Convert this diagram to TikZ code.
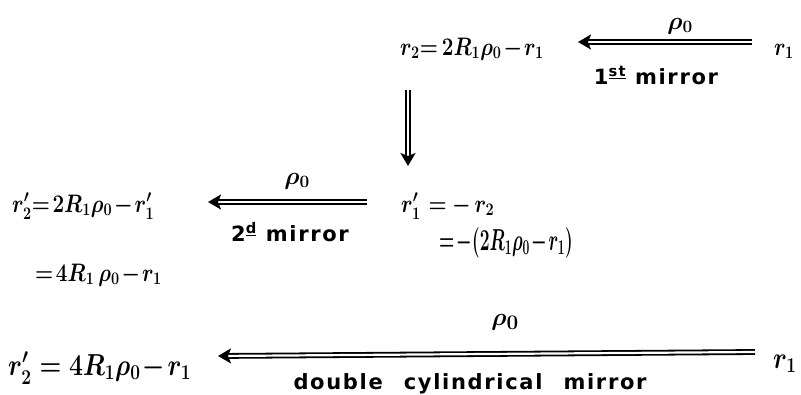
\documentclass[tikz,border=0pt]{standalone}
\usepackage{amsmath}
\usepackage{graphicx}
\usepackage{fontspec}
\setsansfont{DejaVu Sans}
\usetikzlibrary{arrows.meta}
\newfontfamily\hand[LetterSpace=8]{DejaVu Sans}
\newcommand\tightmu{\boldmath\thickmuskip=2mu\relax\medmuskip=1.5mu\relax}
\newcommand\tall[2][1]{\scalebox{#1}[1.22]{#2}}
\tikzset{
  eq/.style={anchor=base west, inner sep=0pt,
    font=\fontsize{22}{26}\selectfont, execute at begin node=\tightmu},
  bigeq/.style={eq, font=\fontsize{24}{28}\selectfont},
  lbl/.style={anchor=base, inner sep=0pt, font=\fontsize{21}{24}\selectfont\hand\bfseries},
  rho/.style={anchor=center, inner sep=0pt, font=\fontsize{26}{28}\selectfont,
    execute at begin node=\boldmath},
  dbl/.style={draw=black, line width=1.8pt, double distance=2.2pt,
    -{Stealth[length=13pt,width=15pt,inset=3pt]}},
}
\begin{document}
\begin{tikzpicture}[x=1pt,y=-1pt]
\useasboundingbox (0,0) rectangle (801,394);
% top row
\node[eq] (e1) at (400,55) {\tall{$r_2{=}\,2R_1\rho_0-r_1$}};
\node[eq] (r1a) at (774,55) {\tall{$r_1$}};
\coordinate (a1s) at (752,42);
\coordinate (a1e) at (578,42);
\draw[dbl] (a1s) -- (a1e);
\node[rho] (rho1) at (680,26) {$\rho_0$};
\node[lbl] (m1) at (656,84) {1\textsuperscript{\underline{st}} mirror};
% vertical arrow
\coordinate (vs) at (408,90);
\coordinate (ve) at (408,166);
\draw[dbl] (vs) -- (ve);
% middle row
\node[eq] (e2) at (401,212) {\tall{$r_1'\;\;=\;-\,r_2$}};
\node[eq, font=\fontsize{24}{28}\selectfont] (e3) at (439,250) {\tall[0.7]{$=-(2R_1\rho_0-r_1)$}};
\coordinate (a2s) at (367,202);
\coordinate (a2e) at (208,202);
\draw[dbl] (a2s) -- (a2e);
\node[rho] (rho2) at (297,181) {$\rho_0$};
\node[lbl] (m2) at (290,241) {2\textsuperscript{\underline{d}} mirror};
\node[eq] (e4) at (12,212) {\tall{$r_2'{=}\;2R_1\rho_0-r_1'$}};
\node[eq] (e5) at (35,281) {\tall{$=4R_1\,\rho_0-r_1$}};
% bottom row
\node[bigeq] (e6) at (8,375) {\tall{$r_2'\,=\,4R_1\rho_0-r_1$}};
\node[bigeq] (r1b) at (773,368) {\tall{$r_1$}};
\coordinate (a3s) at (755,352);
\coordinate (a3e) at (218,356);
\draw[dbl] (a3s) -- (a3e);
\node[rho, font=\fontsize{30}{32}\selectfont] (rho3) at (505,322) {$\rho_0$};
\node[lbl] (m3) at (470,389) {double\quad cylindrical\quad mirror};
\end{tikzpicture}
\end{document}
